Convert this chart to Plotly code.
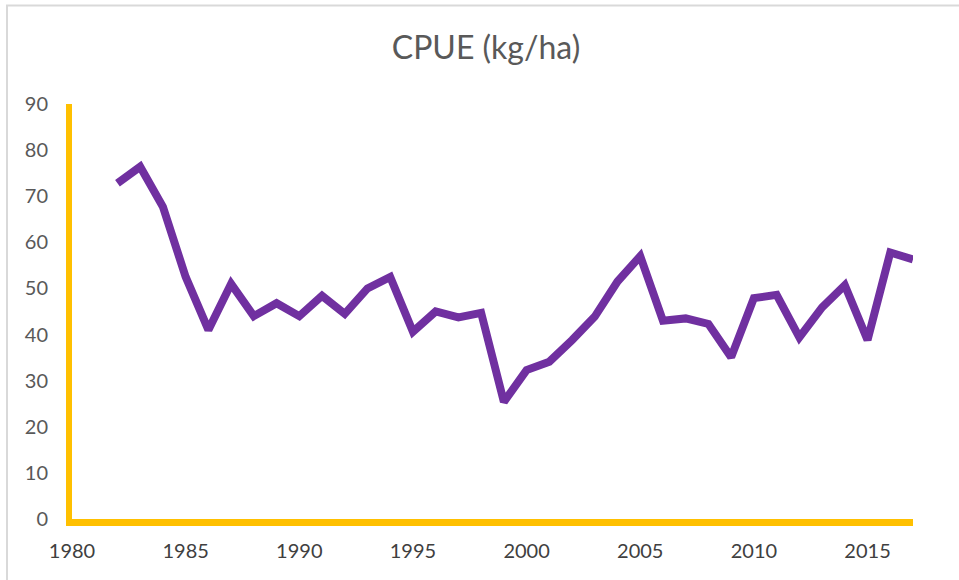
import plotly.graph_objects as go

years = list(range(1982, 2018))
cpue = [72.8, 76.4, 67.7, 52.5, 41.0, 51.0, 44.0, 46.8, 44.0, 48.4,
        44.5, 50.0, 52.5, 40.6, 45.0, 43.7, 44.7, 25.4, 32.3, 34.1,
        38.8, 43.9, 51.5, 57.0, 43.0, 43.5, 42.3, 35.1, 47.9, 48.6,
        39.4, 45.9, 50.7, 38.8, 57.8, 56.3]
x_ticks = [1980, 1985, 1990, 1995, 2000, 2005, 2010, 2015]
y_ticks = [0, 10, 20, 30, 40, 50, 60, 70, 80, 90]

W, H = 959, 580
L, R, T, B = 72, 46, 104, 61
pw, ph = W - L - R, H - T - B

def px_to_paper_x(px):
    return (px - L) / pw

def px_to_paper_y(py):
    return (H - B - py) / ph

fig = go.Figure()
fig.add_trace(go.Scatter(
    x=years, y=cpue, mode="lines",
    line=dict(color="#7030A0", width=8),
    hoverinfo="x+y", showlegend=False,
))

fig.update_layout(
    width=W, height=H, autosize=False,
    margin=dict(l=L, r=R, t=T, b=B),
    paper_bgcolor="white", plot_bgcolor="white",
    title=dict(text="CPUE (kg/ha)", x=486 / W, xanchor="center",
               y=1 - 48 / H, yanchor="middle",
               font=dict(family="Lato, Open Sans, sans-serif", size=32, color="#595959")),
    font=dict(family="Lato, Open Sans, sans-serif", color="#595959"),
    xaxis=dict(range=[1980, 2017], tickvals=x_ticks, ticktext=[str(v) for v in x_ticks],
               showgrid=False, zeroline=False, showline=True, linecolor="#FFC000", linewidth=7,
               ticks="", ticklabelstandoff=8,
               tickfont=dict(size=20, color="#404040")),
    yaxis=dict(range=[0, 90], tickvals=y_ticks,
               showgrid=False, zeroline=False, showline=True, linecolor="#FFC000", linewidth=6,
               ticks="", ticklabelstandoff=14,
               tickfont=dict(size=20, color="#595959")),
    shapes=[dict(type="rect", xref="paper", yref="paper",
                 x0=px_to_paper_x(7), x1=px_to_paper_x(975),
                 y0=px_to_paper_y(600), y1=px_to_paper_y(5.5),
                 line=dict(color="#D9D9D9", width=2), fillcolor="rgba(0,0,0,0)", layer="below")],
)

fig.write_html("out.html", config={"displayModeBar": False},
               post_script="document.body.style.margin='0';document.body.style.overflow='hidden';")
